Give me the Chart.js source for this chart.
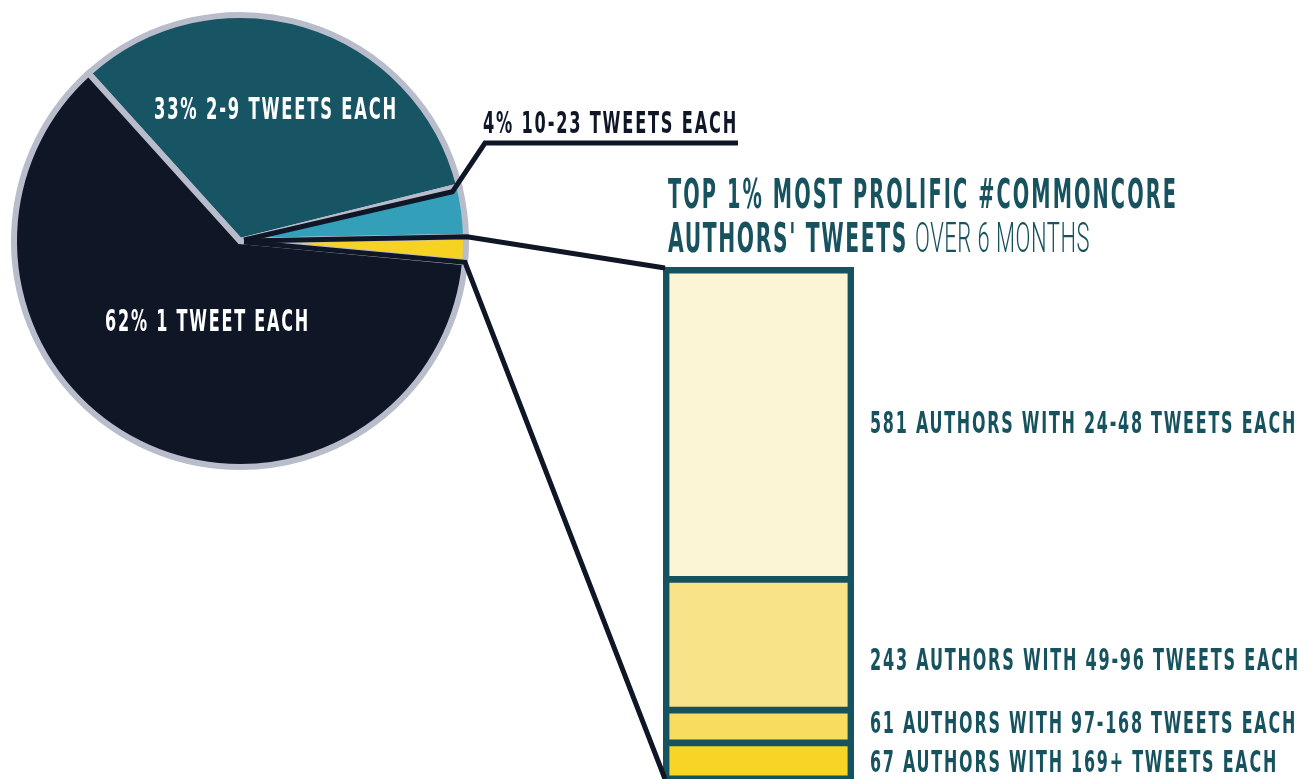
<!DOCTYPE html>
<html>
<head>
<meta charset="utf-8">
<script src="https://cdn.jsdelivr.net/npm/chart.js@4"></script>
<style>
html,body{margin:0;padding:0;background:#ffffff;overflow:hidden;width:1314px;height:779px}
canvas{position:absolute;left:0;top:0}
</style>
</head>
<body>
<canvas id="pie" width="1314" height="779"></canvas>
<canvas id="bar" width="1314" height="779"></canvas>
<script>
// ---- data ----
const pieCategories = ['2-9 tweets each', '10-23 tweets each', 'top 1% (24+ tweets each)', '1 tweet each'];
const pieShares = [32.8, 3.6, 1.8, 61.8];
const pieColors = ['#175464', '#339fb9', '#f6d323', '#0f1626'];
const pieLabelText = ['33% 2-9 TWEETS EACH', '4% 10-23 TWEETS EACH', '', '62% 1 TWEET EACH'];

const barCategories = ['169+ tweets', '97-168 tweets', '49-96 tweets', '24-48 tweets'];
const barAuthors = [67, 61, 243, 581];
const barColors = ['#f7d425', '#f7dc5e', '#f8e388', '#fbf5d6'];
const barLabelText = ['67 AUTHORS WITH 169+ TWEETS EACH', '61 AUTHORS WITH 97-168 TWEETS EACH',
                      '243 AUTHORS WITH 49-96 TWEETS EACH', '581 AUTHORS WITH 24-48 TWEETS EACH'];

const titleLine1 = 'TOP 1% MOST PROLIFIC #COMMONCORE';
const titleLine2Bold = "AUTHORS' TWEETS";
const titleLine2Thin = 'OVER 6 MONTHS';

// ---- styles / layout ----
const TEAL = '#17525f';
const DARK = '#0f1626';
const COND = "'DejaVu Sans Condensed', 'DejaVu Sans', sans-serif";
const THIN = "Roboto, 'Open Sans', sans-serif";

// text placement: [x, baseline, width]
const pieLabelPos = [[154, 119, 244], [483, 133, 255], null, [105, 331, 205]];
const barLabelBase = [772, 733, 670, 433];
const barLabelWidth = [408, 427, 430, 427];

function fitText(ctx, text, x, base, width, font, color, spacing) {
  ctx.save();
  ctx.font = font;
  ctx.fillStyle = color;
  ctx.textBaseline = 'alphabetic';
  ctx.textAlign = 'left';
  if ('letterSpacing' in ctx) ctx.letterSpacing = spacing || '0px';
  const w = ctx.measureText(text).width;
  ctx.translate(x, base);
  ctx.scale(width / w, 1);
  ctx.fillText(text, 0, 0);
  ctx.restore();
}

const pieChart = new Chart(document.getElementById('pie'), {
  type: 'pie',
  data: {
    labels: pieCategories,
    datasets: [{
      data: pieShares,
      backgroundColor: pieColors,
      borderColor: '#b8bccb',
      borderWidth: 6,
      borderJoinStyle: 'miter'
    }]
  },
  options: {
    responsive: false,
    animation: false,
    radius: 226,
    rotation: -42.1,
    layout: { padding: { left: 11, top: 12, right: 845, bottom: 309 } },
    plugins: { legend: { display: false }, tooltip: { enabled: false } },
    events: []
  }
});

const overlayPlugin = {
  id: 'overlay',
  afterDraw(chart) {
    const ctx = chart.ctx;
    const arcs = pieChart.getDatasetMeta(0).data;
    const cx = arcs[0].x, cy = arcs[0].y, R = arcs[0].outerRadius;
    const topBar = chart.getDatasetMeta(barAuthors.length - 1).data[0];
    const botBar = chart.getDatasetMeta(0).data[0];
    const barLeft = topBar.x - topBar.width / 2;
    const barRight = topBar.x + topBar.width / 2;
    const barTop = topBar.y;
    const barBottom = botBar.base;

    ctx.save();
    ctx.strokeStyle = DARK;
    ctx.lineWidth = 5;
    ctx.lineJoin = 'miter';
    ctx.lineCap = 'butt';

    // connector for the 4% label
    const aA = arcs[1].startAngle + 0.017;
    ctx.beginPath();
    ctx.moveTo(cx + 4, cy - 1);
    ctx.lineTo(cx + (R - 8) * Math.cos(aA), cy + (R - 8) * Math.sin(aA));
    ctx.lineTo(485, 143);
    ctx.lineTo(738, 143);
    ctx.stroke();

    // connector from top 1% slice to bar top
    const aB = arcs[2].startAngle;
    ctx.beginPath();
    ctx.moveTo(cx + 4, cy);
    ctx.lineTo(cx + (R + 1) * Math.cos(aB), cy + (R + 1) * Math.sin(aB));
    ctx.lineTo(barLeft + 2, barTop + 1);
    ctx.stroke();

    // connector from top 1% slice to bar bottom
    const aC = arcs[2].endAngle;
    ctx.beginPath();
    ctx.moveTo(cx + 4, cy + 1);
    ctx.lineTo(cx + R * Math.cos(aC), cy + R * Math.sin(aC));
    ctx.lineTo(barLeft + 2, barBottom);
    ctx.stroke();
    ctx.restore();

    // pie labels
    pieLabelText.forEach((t, i) => {
      const p = pieLabelPos[i];
      if (!p || !t) return;
      fitText(ctx, t, p[0], p[1], p[2], 'bold 30px ' + COND, i === 1 ? DARK : '#ffffff', '3px');
    });

    // title
    fitText(ctx, titleLine1, 668, 208, 510, 'bold 41px ' + COND, TEAL, '4px');
    fitText(ctx, titleLine2Bold, 668, 252, 240, 'bold 41px ' + COND, TEAL, '3px');
    fitText(ctx, titleLine2Thin, 915, 252, 175, '300 42px ' + THIN, TEAL, '1px');

    // bar labels
    barLabelText.forEach((t, i) => {
      fitText(ctx, t, barRight + 16, barLabelBase[i], barLabelWidth[i], 'bold 30px ' + COND, TEAL, '3px');
    });
  }
};

const barTotal = barAuthors.reduce((a, b) => a + b, 0);
const widthsFor = (i) => i === barAuthors.length - 1
  ? { top: 7, bottom: 4, left: 7, right: 7 }
  : { top: 4, bottom: 4, left: 7, right: 7 };

new Chart(document.getElementById('bar'), {
  type: 'bar',
  data: {
    labels: ['Top 1% authors'],
    datasets: barAuthors.map((v, i) => ({
      label: barCategories[i],
      data: [v],
      backgroundColor: barColors[i],
      borderColor: TEAL,
      borderWidth: widthsFor(i),
      borderSkipped: false,
      inflateAmount: 0.6,
      barPercentage: 1,
      categoryPercentage: 1
    }))
  },
  options: {
    responsive: false,
    animation: false,
    layout: { padding: { left: 663, right: 460, top: 267, bottom: 0 } },
    scales: {
      x: { display: false, stacked: true },
      y: { display: false, stacked: true, min: 0, max: barTotal }
    },
    plugins: { legend: { display: false }, tooltip: { enabled: false } },
    events: []
  },
  plugins: [overlayPlugin]
});
</script>
</body>
</html>
